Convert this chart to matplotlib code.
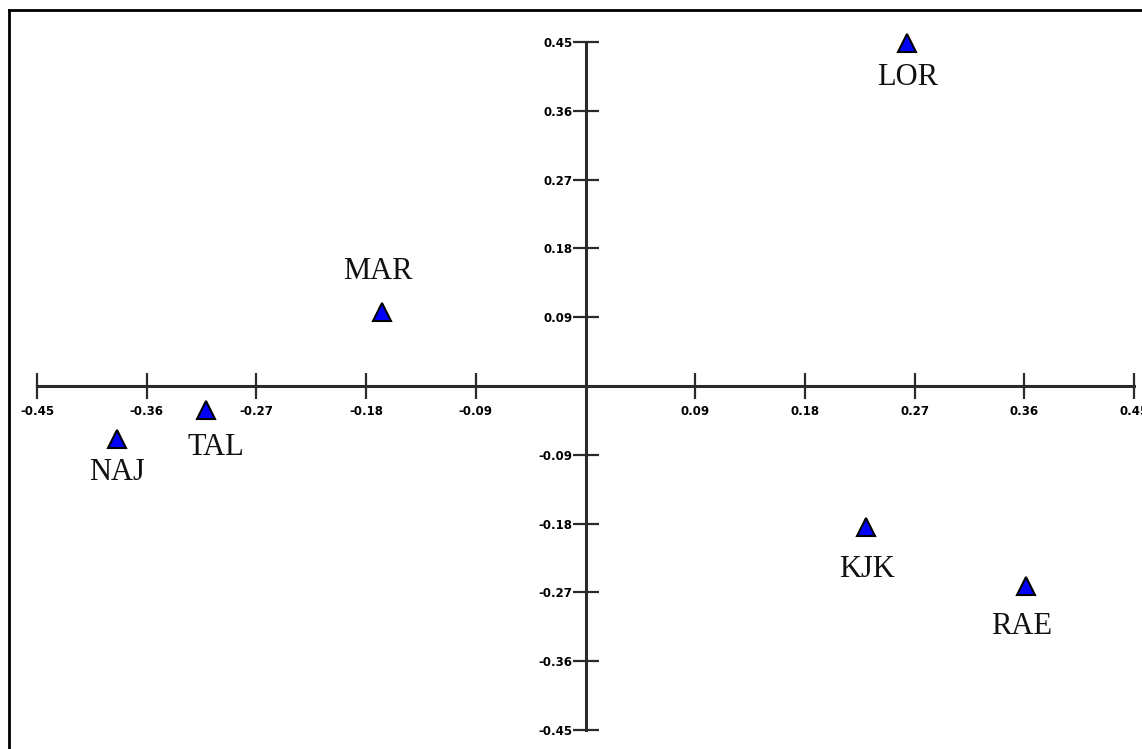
import matplotlib.pyplot as plt
from matplotlib.lines import Line2D

# Data
labels = ['LOR', 'MAR', 'TAL', 'NAJ', 'KJK', 'RAE']
x_vals = [0.264, -0.167, -0.311, -0.384, 0.230, 0.361]
y_vals = [0.449, 0.097, -0.031, -0.069, -0.185, -0.262]
ticks = [-0.45, -0.36, -0.27, -0.18, -0.09, 0.09, 0.18, 0.27, 0.36, 0.45]

# label offsets in points (layout only)
offsets = [(0, -25), (-3, 29), (7, -27), (0, -24), (1, -30), (-3, -29)]

W, H = 1142, 749
fig = plt.figure(figsize=(W / 100, H / 100), dpi=100)
ax = fig.add_axes([37 / W, (H - 730) / H, 1097 / W, 688 / H])
ax.set_xlim(-0.45, 0.45)
ax.set_ylim(-0.45, 0.45)

axis_col = '#2a2a2a'
for side in ['top', 'right']:
    ax.spines[side].set_visible(False)
for side in ['left', 'bottom']:
    ax.spines[side].set_position(('data', 0))
    ax.spines[side].set_linewidth(2.2)
    ax.spines[side].set_color(axis_col)

tick_font = dict(family=['Liberation Sans Narrow', 'DejaVu Sans'], weight='bold', size=8.5)
ax.set_xticks(ticks)
ax.set_yticks(ticks)
ax.set_xticklabels([f'{t:.2f}' for t in ticks], **tick_font)
ax.set_yticklabels([f'{t:.2f}' for t in ticks], **tick_font)
ax.tick_params(axis='x', direction='inout', length=19, width=1.6, color=axis_col, pad=4)
ax.tick_params(axis='y', direction='inout', length=19, width=1.6, color=axis_col, pad=0)

ax.plot(x_vals, y_vals, linestyle='none', marker='^', markersize=12.5,
        markerfacecolor='#0000ff', markeredgecolor='black', markeredgewidth=1.5,
        clip_on=False, zorder=5)

for lab, x, y, off in zip(labels, x_vals, y_vals, offsets):
    ax.annotate(lab, (x, y), xytext=off, textcoords='offset points',
                ha='center', va='center', fontsize=22,
                family=['Liberation Serif', 'DejaVu Serif'], color='#111111',
                annotation_clip=False)

# frame around the picture (top and left edges visible)
fig.add_artist(Line2D([9 / W, 9 / W], [0, 1 - 10 / H], transform=fig.transFigure,
                      color='black', linewidth=2))
fig.add_artist(Line2D([9 / W, 1], [1 - 10 / H, 1 - 10 / H], transform=fig.transFigure,
                      color='black', linewidth=2))

fig.savefig('out.png', dpi=100)
